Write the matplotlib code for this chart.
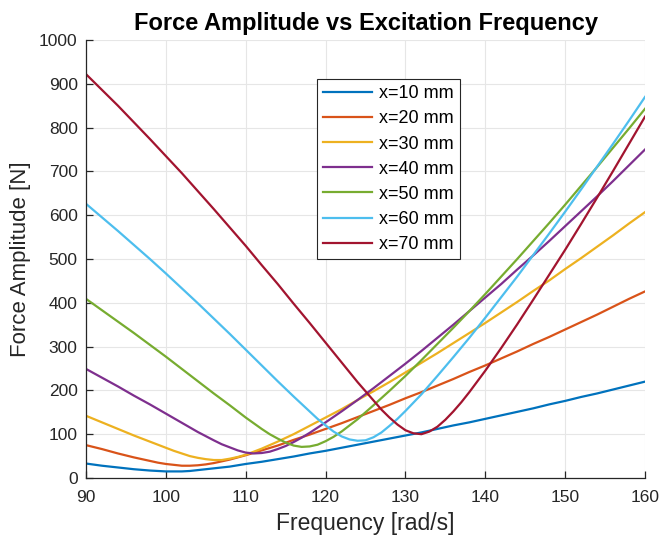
import numpy as np
import matplotlib
matplotlib.use("Agg")
import matplotlib.pyplot as plt

plt.rcParams['font.family'] = ['Liberation Sans', 'DejaVu Sans']

# excitation frequency [rad/s], values every 2 rad/s
freq = list(range(90, 161, 2))

f_10 = [33, 28, 24, 20, 17, 15, 15, 18, 22, 26, 32, 37, 43, 49, 56, 62, 69, 76,
        83, 90, 97, 104, 112, 120, 127, 135, 143, 151, 159, 168, 176, 185, 193, 202, 211, 220]
f_20 = [75, 66, 56, 47, 39, 32, 28, 29, 34, 42, 52, 63, 74, 87, 99, 112, 125, 139,
        153, 167, 182, 196, 211, 226, 242, 257, 273, 289, 306, 322, 339, 356, 373, 391, 409, 426]
f_30 = [142, 127, 112, 97, 83, 69, 56, 46, 41, 44, 53, 67, 83, 100, 119, 138, 157, 178,
        198, 219, 241, 263, 285, 308, 331, 354, 378, 402, 427, 451, 477, 502, 528, 554, 581, 607]
f_40 = [249, 229, 209, 188, 168, 147, 126, 105, 86, 70, 58, 57, 66, 82, 103, 127, 152, 178,
        205, 233, 261, 290, 320, 350, 381, 412, 443, 476, 508, 541, 575, 609, 643, 678, 714, 750]
f_50 = [409, 383, 357, 331, 304, 277, 249, 221, 193, 166, 138, 112, 90, 74, 72, 84, 106, 134,
        166, 199, 233, 269, 306, 343, 381, 420, 460, 500, 541, 582, 624, 667, 710, 754, 798, 843]
f_60 = [626, 595, 564, 532, 500, 467, 433, 399, 364, 329, 293, 257, 221, 186, 152, 120, 95, 85,
        93, 119, 153, 191, 233, 276, 320, 366, 413, 460, 509, 558, 608, 659, 711, 763, 816, 870]
f_70 = [922, 886, 850, 812, 774, 735, 696, 655, 614, 572, 530, 486, 443, 398, 354, 309, 264, 219,
        177, 138, 109, 100, 117, 152, 196, 245, 297, 351, 407, 464, 521, 580, 640, 701, 763, 825]

# extra readings at odd frequencies around each minimum
ex_freq_10 = [99, 101, 103]
ex_f_10 = [16, 15, 16]
ex_freq_20 = [99, 101, 103, 105, 107]
ex_f_20 = [35, 30, 28, 31, 38]
ex_freq_30 = [101, 103, 105, 107, 109, 111]
ex_f_30 = [62, 50, 43, 41, 48, 60]
ex_freq_40 = [107, 109, 111, 113, 115, 117]
ex_f_40 = [77, 63, 56, 60, 73, 92]
ex_freq_50 = [113, 115, 117, 119, 121, 123]
ex_f_50 = [100, 81, 71, 76, 94, 120]
ex_freq_60 = [119, 121, 123, 125, 127, 129]
ex_f_60 = [135, 106, 88, 86, 104, 135]
ex_freq_70 = [127, 129, 131, 133, 135, 137]
ex_f_70 = [156, 122, 102, 106, 133, 173]

series = [
    (f_10, ex_freq_10, ex_f_10),
    (f_20, ex_freq_20, ex_f_20),
    (f_30, ex_freq_30, ex_f_30),
    (f_40, ex_freq_40, ex_f_40),
    (f_50, ex_freq_50, ex_f_50),
    (f_60, ex_freq_60, ex_f_60),
    (f_70, ex_freq_70, ex_f_70),
]
labels = ['x=10 mm', 'x=20 mm', 'x=30 mm', 'x=40 mm', 'x=50 mm', 'x=60 mm', 'x=70 mm']
colors = ['#0072BD', '#D95319', '#EDB120', '#7E2F8E', '#77AC30', '#4DBEEE', '#A2142F']

fig = plt.figure(figsize=(6.59, 5.39), dpi=100)
ax = fig.add_axes([0.1305, 0.1132, 0.8483, 0.8126])

for (vals, exf, exv), lab, c in zip(series, labels, colors):
    x = np.array(freq + exf)
    y = np.array(vals + exv)
    order = np.argsort(x)
    ax.plot(x[order], y[order], color=c, lw=1.6, label=lab)

ax.set_xlim(90, 160)
ax.set_ylim(0, 1000)
ax.set_xticks(np.arange(90, 161, 10))
ax.set_yticks(np.arange(0, 1001, 100))
ax.grid(True, color='#e6e6e6', lw=0.8)
ax.set_axisbelow(True)

for s in ['top', 'right']:
    ax.spines[s].set_visible(False)
for s in ['left', 'bottom']:
    ax.spines[s].set_color('#262626')
    ax.spines[s].set_linewidth(0.9)
ax.tick_params(direction='in', length=5, width=0.9, colors='#262626', labelsize=12.5,
               labelcolor='#262626')
ax.tick_params(axis='y', pad=6)
ax.tick_params(axis='x', pad=9)

ax.set_title('Force Amplitude vs Excitation Frequency', fontsize=17, fontweight='bold', pad=7)
ax.set_xlabel('Frequency [rad/s]', fontsize=16.5, color='#262626', labelpad=5)
ax.set_ylabel('Force Amplitude [N]', fontsize=16, color='#262626', labelpad=6)

leg = ax.legend(loc='upper left', bbox_to_anchor=(0.413, 0.911), borderaxespad=0,
                fontsize=13, fancybox=False, framealpha=1, edgecolor='#262626',
                handlelength=2.7, handletextpad=0.4, labelspacing=0.45, borderpad=0.35)
leg.get_frame().set_linewidth(0.8)

fig.savefig('out.png', dpi=100)
